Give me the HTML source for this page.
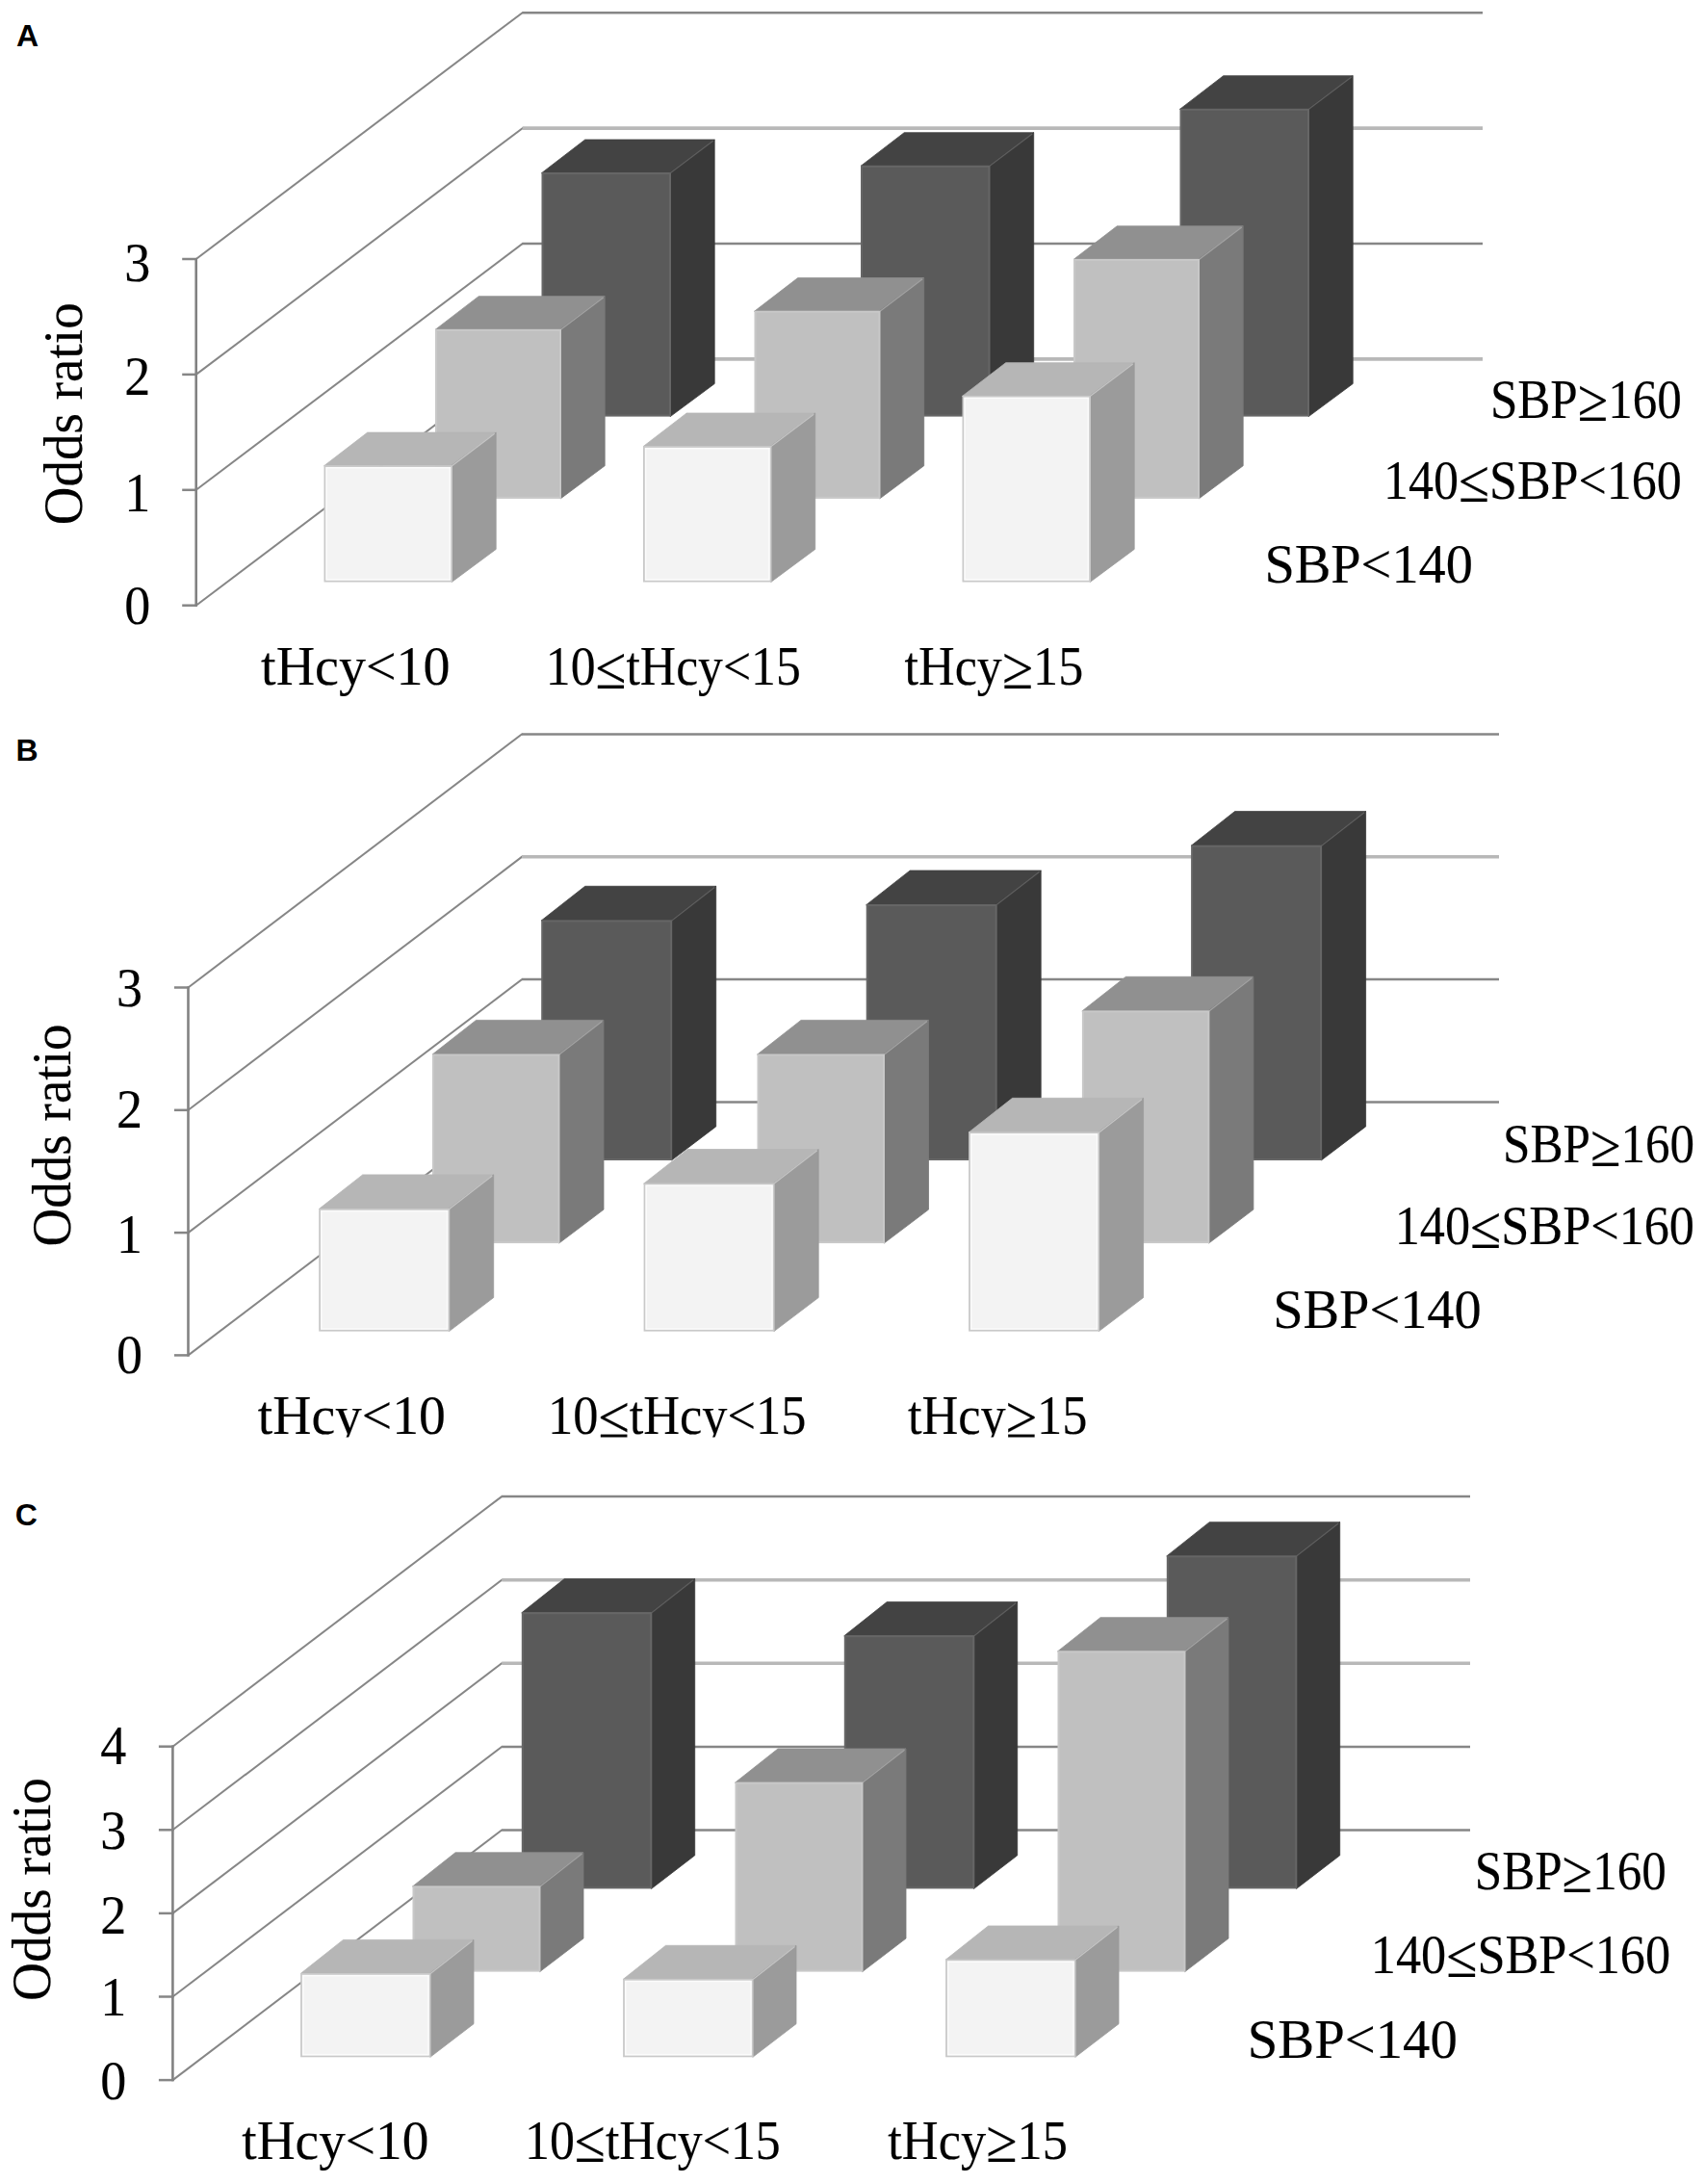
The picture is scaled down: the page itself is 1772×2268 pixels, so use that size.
<!DOCTYPE html>
<html><head><meta charset="utf-8"><title>Figure</title>
<style>
html,body{margin:0;padding:0;background:#fff;}
svg{display:block;}
text{font-family:"Liberation Serif","DejaVu Serif",serif;fill:#000;stroke:#000;stroke-width:0.15px;}
text.pl{font-family:"Liberation Sans","DejaVu Sans",sans-serif;font-weight:bold;font-size:32px;stroke:none;}
</style></head>
<body>
<svg width="1772" height="2268" viewBox="0 0 1772 2268">
<defs><clipPath id="clipB"><rect x="0" y="1400" width="1772" height="92.4"/></clipPath></defs>
<rect width="1772" height="2268" fill="#fff"/>
<g id="panelA">
<line x1="203.7" y1="628.7" x2="543.3" y2="372.5" stroke="#868686" stroke-width="2"/>
<line x1="542.7" y1="372.9" x2="1540.0" y2="372.9" stroke="#b8b8b8" stroke-width="3.6"/>
<line x1="189.2" y1="628.7" x2="204.7" y2="628.7" stroke="#868686" stroke-width="2.5"/>
<line x1="203.7" y1="508.8" x2="543.3" y2="252.6" stroke="#868686" stroke-width="2"/>
<line x1="542.7" y1="253.0" x2="1540.0" y2="253.0" stroke="#868686" stroke-width="2.5"/>
<line x1="189.2" y1="508.8" x2="204.7" y2="508.8" stroke="#868686" stroke-width="2.5"/>
<line x1="203.7" y1="388.9" x2="543.3" y2="132.7" stroke="#868686" stroke-width="2"/>
<line x1="542.7" y1="133.1" x2="1540.0" y2="133.1" stroke="#b8b8b8" stroke-width="3.6"/>
<line x1="189.2" y1="388.9" x2="204.7" y2="388.9" stroke="#868686" stroke-width="2.5"/>
<line x1="203.7" y1="269.0" x2="543.3" y2="12.7" stroke="#868686" stroke-width="2"/>
<line x1="542.7" y1="13.2" x2="1540.0" y2="13.2" stroke="#868686" stroke-width="2.5"/>
<line x1="189.2" y1="269.0" x2="204.7" y2="269.0" stroke="#868686" stroke-width="2.5"/>
<line x1="203.7" y1="267.9" x2="203.7" y2="629.8" stroke="#828282" stroke-width="2.6"/>
<polygon points="562.5,179.7 607.7,145.0 742.2,145.0 697.0,179.7" fill="#434343" stroke="#434343" stroke-width="0.8"/>
<polygon points="696.2,179.1 742.2,145.0 742.2,398.5 696.2,432.6" fill="#393939" stroke="#393939" stroke-width="0.8"/>
<line x1="696.5" y1="179.6" x2="740.7" y2="146.2" stroke="#5e5e5e" stroke-width="1.3"/>
<rect x="563.5" y="180.1" width="132.5" height="251.5" fill="#5a5a5a" stroke="#666666" stroke-width="2"/>
<polygon points="894.0,172.4 939.2,137.7 1073.7,137.7 1028.5,172.4" fill="#434343" stroke="#434343" stroke-width="0.8"/>
<polygon points="1027.7,171.8 1073.7,137.7 1073.7,398.5 1027.7,432.6" fill="#393939" stroke="#393939" stroke-width="0.8"/>
<line x1="1028.0" y1="172.3" x2="1072.2" y2="138.9" stroke="#5e5e5e" stroke-width="1.3"/>
<rect x="895.0" y="172.8" width="132.5" height="258.8" fill="#5a5a5a" stroke="#666666" stroke-width="2"/>
<polygon points="1225.5,113.4 1270.7,78.7 1405.2,78.7 1360.0,113.4" fill="#434343" stroke="#434343" stroke-width="0.8"/>
<polygon points="1359.2,112.8 1405.2,78.7 1405.2,398.5 1359.2,432.6" fill="#393939" stroke="#393939" stroke-width="0.8"/>
<line x1="1359.5" y1="113.3" x2="1403.7" y2="79.9" stroke="#5e5e5e" stroke-width="1.3"/>
<rect x="1226.5" y="113.8" width="132.5" height="317.8" fill="#5a5a5a" stroke="#666666" stroke-width="2"/>
<polygon points="452.0,342.4 497.2,307.7 628.2,307.7 583.0,342.4" fill="#909090" stroke="#909090" stroke-width="0.8"/>
<polygon points="582.2,341.8 628.2,307.7 628.2,483.7 582.2,517.9" fill="#7a7a7a" stroke="#7a7a7a" stroke-width="0.8"/>
<line x1="582.5" y1="342.3" x2="626.7" y2="308.9" stroke="#a2a2a2" stroke-width="1.3"/>
<rect x="453.0" y="342.8" width="129.0" height="174.1" fill="#c0c0c0" stroke="#c8c8c8" stroke-width="2"/>
<polygon points="783.5,323.3 828.7,288.6 959.7,288.6 914.5,323.3" fill="#909090" stroke="#909090" stroke-width="0.8"/>
<polygon points="913.7,322.7 959.7,288.6 959.7,483.7 913.7,517.9" fill="#7a7a7a" stroke="#7a7a7a" stroke-width="0.8"/>
<line x1="914.0" y1="323.2" x2="958.2" y2="289.8" stroke="#a2a2a2" stroke-width="1.3"/>
<rect x="784.5" y="323.7" width="129.0" height="193.2" fill="#c0c0c0" stroke="#c8c8c8" stroke-width="2"/>
<polygon points="1115.0,269.5 1160.2,234.8 1291.2,234.8 1246.0,269.5" fill="#909090" stroke="#909090" stroke-width="0.8"/>
<polygon points="1245.2,268.9 1291.2,234.8 1291.2,483.7 1245.2,517.9" fill="#7a7a7a" stroke="#7a7a7a" stroke-width="0.8"/>
<line x1="1245.5" y1="269.4" x2="1289.7" y2="236.0" stroke="#a2a2a2" stroke-width="1.3"/>
<rect x="1116.0" y="269.9" width="129.0" height="247.0" fill="#c0c0c0" stroke="#c8c8c8" stroke-width="2"/>
<polygon points="336.5,483.8 381.7,449.1 515.2,449.1 470.0,483.8" fill="#b6b6b6" stroke="#b6b6b6" stroke-width="0.8"/>
<polygon points="469.2,483.2 515.2,449.1 515.2,570.4 469.2,604.5" fill="#9b9b9b" stroke="#9b9b9b" stroke-width="0.8"/>
<line x1="469.5" y1="483.7" x2="513.7" y2="450.3" stroke="#c4c4c4" stroke-width="1.3"/>
<rect x="337.5" y="484.2" width="131.5" height="119.3" fill="#f3f3f3" stroke="#c9c9c9" stroke-width="2"/>
<rect x="339.1" y="485.8" width="128.3" height="116.1" fill="none" stroke="#fbfbfb" stroke-width="1.6"/>
<polygon points="668.0,463.7 713.2,429.0 846.7,429.0 801.5,463.7" fill="#b6b6b6" stroke="#b6b6b6" stroke-width="0.8"/>
<polygon points="800.7,463.1 846.7,429.0 846.7,570.4 800.7,604.5" fill="#9b9b9b" stroke="#9b9b9b" stroke-width="0.8"/>
<line x1="801.0" y1="463.6" x2="845.2" y2="430.2" stroke="#c4c4c4" stroke-width="1.3"/>
<rect x="669.0" y="464.1" width="131.5" height="139.4" fill="#f3f3f3" stroke="#c9c9c9" stroke-width="2"/>
<rect x="670.6" y="465.7" width="128.3" height="136.2" fill="none" stroke="#fbfbfb" stroke-width="1.6"/>
<polygon points="999.5,411.4 1044.7,376.7 1178.2,376.7 1133.0,411.4" fill="#b6b6b6" stroke="#b6b6b6" stroke-width="0.8"/>
<polygon points="1132.2,410.8 1178.2,376.7 1178.2,570.4 1132.2,604.5" fill="#9b9b9b" stroke="#9b9b9b" stroke-width="0.8"/>
<line x1="1132.5" y1="411.3" x2="1176.7" y2="377.9" stroke="#c4c4c4" stroke-width="1.3"/>
<rect x="1000.5" y="411.8" width="131.5" height="191.7" fill="#f3f3f3" stroke="#c9c9c9" stroke-width="2"/>
<rect x="1002.1" y="413.4" width="128.3" height="188.5" fill="none" stroke="#fbfbfb" stroke-width="1.6"/>
</g>
<g id="panelB">
<line x1="195.5" y1="1407.4" x2="542.6" y2="1144.0" stroke="#868686" stroke-width="2"/>
<line x1="542.0" y1="1144.4" x2="1557.0" y2="1144.4" stroke="#868686" stroke-width="2.5"/>
<line x1="181.0" y1="1407.4" x2="196.5" y2="1407.4" stroke="#868686" stroke-width="2.5"/>
<line x1="195.5" y1="1280.1" x2="542.6" y2="1016.7" stroke="#868686" stroke-width="2"/>
<line x1="542.0" y1="1017.1" x2="1557.0" y2="1017.1" stroke="#868686" stroke-width="2.5"/>
<line x1="181.0" y1="1280.1" x2="196.5" y2="1280.1" stroke="#868686" stroke-width="2.5"/>
<line x1="195.5" y1="1152.8" x2="542.6" y2="889.4" stroke="#868686" stroke-width="2"/>
<line x1="542.0" y1="889.8" x2="1557.0" y2="889.8" stroke="#b8b8b8" stroke-width="3.6"/>
<line x1="181.0" y1="1152.8" x2="196.5" y2="1152.8" stroke="#868686" stroke-width="2.5"/>
<line x1="195.5" y1="1025.5" x2="542.6" y2="762.0" stroke="#868686" stroke-width="2"/>
<line x1="542.0" y1="762.5" x2="1557.0" y2="762.5" stroke="#868686" stroke-width="2.5"/>
<line x1="181.0" y1="1025.5" x2="196.5" y2="1025.5" stroke="#868686" stroke-width="2.5"/>
<line x1="195.5" y1="1024.4" x2="195.5" y2="1408.5" stroke="#828282" stroke-width="2.6"/>
<polygon points="562.2,956.0 607.7,920.3 743.7,920.3 698.2,956.0" fill="#434343" stroke="#434343" stroke-width="0.8"/>
<polygon points="697.4,955.4 743.7,920.3 743.7,1169.9 697.4,1205.0" fill="#393939" stroke="#393939" stroke-width="0.8"/>
<line x1="697.7" y1="955.9" x2="742.2" y2="921.5" stroke="#5e5e5e" stroke-width="1.3"/>
<rect x="563.2" y="956.4" width="134.0" height="247.6" fill="#5a5a5a" stroke="#666666" stroke-width="2"/>
<polygon points="899.7,939.7 945.2,904.0 1081.2,904.0 1035.7,939.7" fill="#434343" stroke="#434343" stroke-width="0.8"/>
<polygon points="1034.9,939.1 1081.2,904.0 1081.2,1169.9 1034.9,1205.0" fill="#393939" stroke="#393939" stroke-width="0.8"/>
<line x1="1035.2" y1="939.6" x2="1079.7" y2="905.2" stroke="#5e5e5e" stroke-width="1.3"/>
<rect x="900.7" y="940.1" width="134.0" height="263.9" fill="#5a5a5a" stroke="#666666" stroke-width="2"/>
<polygon points="1237.1,878.3 1282.6,842.6 1418.6,842.6 1373.1,878.3" fill="#434343" stroke="#434343" stroke-width="0.8"/>
<polygon points="1372.3,877.7 1418.6,842.6 1418.6,1169.9 1372.3,1205.0" fill="#393939" stroke="#393939" stroke-width="0.8"/>
<line x1="1372.6" y1="878.2" x2="1417.1" y2="843.8" stroke="#5e5e5e" stroke-width="1.3"/>
<rect x="1238.1" y="878.7" width="134.0" height="325.3" fill="#5a5a5a" stroke="#666666" stroke-width="2"/>
<polygon points="449.0,1095.1 494.5,1059.4 627.0,1059.4 581.5,1095.1" fill="#909090" stroke="#909090" stroke-width="0.8"/>
<polygon points="580.7,1094.5 627.0,1059.4 627.0,1256.1 580.7,1291.1" fill="#7a7a7a" stroke="#7a7a7a" stroke-width="0.8"/>
<line x1="581.0" y1="1095.0" x2="625.5" y2="1060.6" stroke="#a2a2a2" stroke-width="1.3"/>
<rect x="450.0" y="1095.5" width="130.5" height="194.6" fill="#c0c0c0" stroke="#c8c8c8" stroke-width="2"/>
<polygon points="786.5,1095.1 832.0,1059.4 964.5,1059.4 919.0,1095.1" fill="#909090" stroke="#909090" stroke-width="0.8"/>
<polygon points="918.2,1094.5 964.5,1059.4 964.5,1256.1 918.2,1291.1" fill="#7a7a7a" stroke="#7a7a7a" stroke-width="0.8"/>
<line x1="918.5" y1="1095.0" x2="963.0" y2="1060.6" stroke="#a2a2a2" stroke-width="1.3"/>
<rect x="787.5" y="1095.5" width="130.5" height="194.6" fill="#c0c0c0" stroke="#c8c8c8" stroke-width="2"/>
<polygon points="1123.9,1050.0 1169.4,1014.3 1301.9,1014.3 1256.4,1050.0" fill="#909090" stroke="#909090" stroke-width="0.8"/>
<polygon points="1255.6,1049.4 1301.9,1014.3 1301.9,1256.1 1255.6,1291.1" fill="#7a7a7a" stroke="#7a7a7a" stroke-width="0.8"/>
<line x1="1255.9" y1="1049.9" x2="1300.4" y2="1015.5" stroke="#a2a2a2" stroke-width="1.3"/>
<rect x="1124.9" y="1050.4" width="130.5" height="239.7" fill="#c0c0c0" stroke="#c8c8c8" stroke-width="2"/>
<polygon points="331.2,1255.6 376.7,1219.9 512.7,1219.9 467.2,1255.6" fill="#b6b6b6" stroke="#b6b6b6" stroke-width="0.8"/>
<polygon points="466.4,1255.0 512.7,1219.9 512.7,1347.5 466.4,1382.6" fill="#9b9b9b" stroke="#9b9b9b" stroke-width="0.8"/>
<line x1="466.7" y1="1255.5" x2="511.2" y2="1221.1" stroke="#c4c4c4" stroke-width="1.3"/>
<rect x="332.2" y="1256.0" width="134.0" height="125.6" fill="#f3f3f3" stroke="#c9c9c9" stroke-width="2"/>
<rect x="333.8" y="1257.6" width="130.8" height="122.4" fill="none" stroke="#fbfbfb" stroke-width="1.6"/>
<polygon points="668.6,1229.2 714.2,1193.5 850.2,1193.5 804.6,1229.2" fill="#b6b6b6" stroke="#b6b6b6" stroke-width="0.8"/>
<polygon points="803.9,1228.6 850.2,1193.5 850.2,1347.5 803.9,1382.6" fill="#9b9b9b" stroke="#9b9b9b" stroke-width="0.8"/>
<line x1="804.1" y1="1229.1" x2="848.7" y2="1194.7" stroke="#c4c4c4" stroke-width="1.3"/>
<rect x="669.6" y="1229.6" width="134.0" height="152.0" fill="#f3f3f3" stroke="#c9c9c9" stroke-width="2"/>
<rect x="671.2" y="1231.2" width="130.8" height="148.8" fill="none" stroke="#fbfbfb" stroke-width="1.6"/>
<polygon points="1006.1,1176.0 1051.6,1140.3 1187.6,1140.3 1142.1,1176.0" fill="#b6b6b6" stroke="#b6b6b6" stroke-width="0.8"/>
<polygon points="1141.3,1175.4 1187.6,1140.3 1187.6,1347.5 1141.3,1382.6" fill="#9b9b9b" stroke="#9b9b9b" stroke-width="0.8"/>
<line x1="1141.6" y1="1175.9" x2="1186.1" y2="1141.5" stroke="#c4c4c4" stroke-width="1.3"/>
<rect x="1007.1" y="1176.4" width="134.0" height="205.2" fill="#f3f3f3" stroke="#c9c9c9" stroke-width="2"/>
<rect x="1008.7" y="1178.0" width="130.8" height="202.0" fill="none" stroke="#fbfbfb" stroke-width="1.6"/>
</g>
<g id="panelC">
<line x1="179.4" y1="2160.1" x2="521.8" y2="1900.0" stroke="#868686" stroke-width="2"/>
<line x1="521.2" y1="1900.5" x2="1527.0" y2="1900.5" stroke="#868686" stroke-width="2.5"/>
<line x1="164.9" y1="2160.1" x2="180.4" y2="2160.1" stroke="#868686" stroke-width="2.5"/>
<line x1="179.4" y1="2073.5" x2="521.8" y2="1813.5" stroke="#868686" stroke-width="2"/>
<line x1="521.2" y1="1813.9" x2="1527.0" y2="1813.9" stroke="#868686" stroke-width="2.5"/>
<line x1="164.9" y1="2073.5" x2="180.4" y2="2073.5" stroke="#868686" stroke-width="2.5"/>
<line x1="179.4" y1="1986.9" x2="521.8" y2="1726.8" stroke="#868686" stroke-width="2"/>
<line x1="521.2" y1="1727.3" x2="1527.0" y2="1727.3" stroke="#b8b8b8" stroke-width="3.6"/>
<line x1="164.9" y1="1986.9" x2="180.4" y2="1986.9" stroke="#868686" stroke-width="2.5"/>
<line x1="179.4" y1="1900.3" x2="521.8" y2="1640.2" stroke="#868686" stroke-width="2"/>
<line x1="521.2" y1="1640.7" x2="1527.0" y2="1640.7" stroke="#b8b8b8" stroke-width="3.6"/>
<line x1="164.9" y1="1900.3" x2="180.4" y2="1900.3" stroke="#868686" stroke-width="2.5"/>
<line x1="179.4" y1="1813.7" x2="521.8" y2="1553.6" stroke="#868686" stroke-width="2"/>
<line x1="521.2" y1="1554.1" x2="1527.0" y2="1554.1" stroke="#868686" stroke-width="2.5"/>
<line x1="164.9" y1="1813.7" x2="180.4" y2="1813.7" stroke="#868686" stroke-width="2.5"/>
<line x1="179.4" y1="1812.6" x2="179.4" y2="2161.2" stroke="#828282" stroke-width="2.6"/>
<polygon points="541.8,1674.8 586.2,1639.6 721.7,1639.6 677.3,1674.8" fill="#434343" stroke="#434343" stroke-width="0.8"/>
<polygon points="676.5,1674.2 721.7,1639.6 721.7,1926.8 676.5,1961.4" fill="#393939" stroke="#393939" stroke-width="0.8"/>
<line x1="676.8" y1="1674.7" x2="720.2" y2="1640.8" stroke="#5e5e5e" stroke-width="1.3"/>
<rect x="542.8" y="1675.2" width="133.5" height="285.2" fill="#5a5a5a" stroke="#666666" stroke-width="2"/>
<polygon points="876.8,1698.8 921.2,1663.6 1056.7,1663.6 1012.3,1698.8" fill="#434343" stroke="#434343" stroke-width="0.8"/>
<polygon points="1011.5,1698.2 1056.7,1663.6 1056.7,1926.8 1011.5,1961.4" fill="#393939" stroke="#393939" stroke-width="0.8"/>
<line x1="1011.8" y1="1698.7" x2="1055.2" y2="1664.8" stroke="#5e5e5e" stroke-width="1.3"/>
<rect x="877.8" y="1699.2" width="133.5" height="261.2" fill="#5a5a5a" stroke="#666666" stroke-width="2"/>
<polygon points="1211.8,1615.9 1256.2,1580.7 1391.7,1580.7 1347.3,1615.9" fill="#434343" stroke="#434343" stroke-width="0.8"/>
<polygon points="1346.5,1615.3 1391.7,1580.7 1391.7,1926.8 1346.5,1961.4" fill="#393939" stroke="#393939" stroke-width="0.8"/>
<line x1="1346.8" y1="1615.8" x2="1390.2" y2="1581.9" stroke="#5e5e5e" stroke-width="1.3"/>
<rect x="1212.8" y="1616.3" width="133.5" height="344.1" fill="#5a5a5a" stroke="#666666" stroke-width="2"/>
<polygon points="428.5,1959.0 473.0,1923.8 606.0,1923.8 561.5,1959.0" fill="#909090" stroke="#909090" stroke-width="0.8"/>
<polygon points="560.7,1958.4 606.0,1923.8 606.0,2013.0 560.7,2047.6" fill="#7a7a7a" stroke="#7a7a7a" stroke-width="0.8"/>
<line x1="561.0" y1="1958.9" x2="604.5" y2="1925.0" stroke="#a2a2a2" stroke-width="1.3"/>
<rect x="429.5" y="1959.4" width="131.0" height="87.2" fill="#c0c0c0" stroke="#c8c8c8" stroke-width="2"/>
<polygon points="763.5,1851.2 808.0,1816.0 941.0,1816.0 896.5,1851.2" fill="#909090" stroke="#909090" stroke-width="0.8"/>
<polygon points="895.7,1850.6 941.0,1816.0 941.0,2013.0 895.7,2047.6" fill="#7a7a7a" stroke="#7a7a7a" stroke-width="0.8"/>
<line x1="896.0" y1="1851.1" x2="939.5" y2="1817.2" stroke="#a2a2a2" stroke-width="1.3"/>
<rect x="764.5" y="1851.6" width="131.0" height="195.0" fill="#c0c0c0" stroke="#c8c8c8" stroke-width="2"/>
<polygon points="1098.5,1714.9 1143.0,1679.7 1276.0,1679.7 1231.5,1714.9" fill="#909090" stroke="#909090" stroke-width="0.8"/>
<polygon points="1230.7,1714.3 1276.0,1679.7 1276.0,2013.0 1230.7,2047.6" fill="#7a7a7a" stroke="#7a7a7a" stroke-width="0.8"/>
<line x1="1231.0" y1="1714.8" x2="1274.5" y2="1680.9" stroke="#a2a2a2" stroke-width="1.3"/>
<rect x="1099.5" y="1715.3" width="131.0" height="331.3" fill="#c0c0c0" stroke="#c8c8c8" stroke-width="2"/>
<polygon points="312.1,2049.6 356.5,2014.4 492.0,2014.4 447.6,2049.6" fill="#b6b6b6" stroke="#b6b6b6" stroke-width="0.8"/>
<polygon points="446.8,2049.0 492.0,2014.4 492.0,2101.7 446.8,2136.3" fill="#9b9b9b" stroke="#9b9b9b" stroke-width="0.8"/>
<line x1="447.1" y1="2049.5" x2="490.5" y2="2015.6" stroke="#c4c4c4" stroke-width="1.3"/>
<rect x="313.1" y="2050.0" width="133.5" height="85.3" fill="#f3f3f3" stroke="#c9c9c9" stroke-width="2"/>
<rect x="314.7" y="2051.6" width="130.3" height="82.1" fill="none" stroke="#fbfbfb" stroke-width="1.6"/>
<polygon points="647.1,2055.5 691.5,2020.3 827.0,2020.3 782.6,2055.5" fill="#b6b6b6" stroke="#b6b6b6" stroke-width="0.8"/>
<polygon points="781.8,2054.9 827.0,2020.3 827.0,2101.7 781.8,2136.3" fill="#9b9b9b" stroke="#9b9b9b" stroke-width="0.8"/>
<line x1="782.1" y1="2055.4" x2="825.5" y2="2021.5" stroke="#c4c4c4" stroke-width="1.3"/>
<rect x="648.1" y="2055.9" width="133.5" height="79.4" fill="#f3f3f3" stroke="#c9c9c9" stroke-width="2"/>
<rect x="649.7" y="2057.5" width="130.3" height="76.2" fill="none" stroke="#fbfbfb" stroke-width="1.6"/>
<polygon points="982.1,2035.2 1026.5,2000.0 1162.0,2000.0 1117.6,2035.2" fill="#b6b6b6" stroke="#b6b6b6" stroke-width="0.8"/>
<polygon points="1116.8,2034.6 1162.0,2000.0 1162.0,2101.7 1116.8,2136.3" fill="#9b9b9b" stroke="#9b9b9b" stroke-width="0.8"/>
<line x1="1117.1" y1="2035.1" x2="1160.5" y2="2001.2" stroke="#c4c4c4" stroke-width="1.3"/>
<rect x="983.1" y="2035.6" width="133.5" height="99.7" fill="#f3f3f3" stroke="#c9c9c9" stroke-width="2"/>
<rect x="984.7" y="2037.2" width="130.3" height="96.5" fill="none" stroke="#fbfbfb" stroke-width="1.6"/>
</g>
<g id="labels">
<text x="17" y="48" class="pl">A</text>
<text x="16.6" y="789.9" class="pl">B</text>
<text x="15.8" y="1584.3" class="pl">C</text>
<text x="129.2" y="647.5" font-size="56.5" text-anchor="start" textLength="27.0" lengthAdjust="spacingAndGlyphs">0</text>
<text x="129.2" y="530.7" font-size="56.5" text-anchor="start" textLength="27.0" lengthAdjust="spacingAndGlyphs">1</text>
<text x="129.2" y="409.7" font-size="56.5" text-anchor="start" textLength="27.0" lengthAdjust="spacingAndGlyphs">2</text>
<text x="129.2" y="292.0" font-size="56.5" text-anchor="start" textLength="27.0" lengthAdjust="spacingAndGlyphs">3</text>
<text x="120.9" y="1426.4" font-size="56.5" text-anchor="start" textLength="27.0" lengthAdjust="spacingAndGlyphs">0</text>
<text x="120.9" y="1301.0" font-size="56.5" text-anchor="start" textLength="27.0" lengthAdjust="spacingAndGlyphs">1</text>
<text x="120.9" y="1171.4" font-size="56.5" text-anchor="start" textLength="27.0" lengthAdjust="spacingAndGlyphs">2</text>
<text x="120.9" y="1045.2" font-size="56.5" text-anchor="start" textLength="27.0" lengthAdjust="spacingAndGlyphs">3</text>
<text x="104.3" y="2179.6" font-size="56.5" text-anchor="start" textLength="27.0" lengthAdjust="spacingAndGlyphs">0</text>
<text x="104.3" y="2092.6" font-size="56.5" text-anchor="start" textLength="27.0" lengthAdjust="spacingAndGlyphs">1</text>
<text x="104.3" y="2008.4" font-size="56.5" text-anchor="start" textLength="27.0" lengthAdjust="spacingAndGlyphs">2</text>
<text x="104.3" y="1920.4" font-size="56.5" text-anchor="start" textLength="27.0" lengthAdjust="spacingAndGlyphs">3</text>
<text x="104.3" y="1832.4" font-size="56.5" text-anchor="start" textLength="27.0" lengthAdjust="spacingAndGlyphs">4</text>
<text transform="translate(85.3,429.8) rotate(-90)" font-size="56" text-anchor="middle" textLength="231.0" lengthAdjust="spacingAndGlyphs">Odds ratio</text>
<text transform="translate(72.6,1179.0) rotate(-90)" font-size="56" text-anchor="middle" textLength="231.0" lengthAdjust="spacingAndGlyphs">Odds ratio</text>
<text transform="translate(52.0,1962.0) rotate(-90)" font-size="56" text-anchor="middle" textLength="232.0" lengthAdjust="spacingAndGlyphs">Odds ratio</text>
<text x="271.1" y="711.0" font-size="56" text-anchor="start" textLength="196.4" lengthAdjust="spacingAndGlyphs">tHcy&lt;10</text>
<text x="566.8" y="711.0" font-size="56" text-anchor="start" textLength="265.0" lengthAdjust="spacingAndGlyphs">10<tspan font-size="63" dy="3.5">≤</tspan><tspan dy="-3.5">tHcy&lt;15</tspan></text>
<text x="939.6" y="711.0" font-size="56" text-anchor="start" textLength="185.6" lengthAdjust="spacingAndGlyphs">tHcy<tspan font-size="63" dy="3.5">≥</tspan><tspan dy="-3.5">15</tspan></text>
<g clip-path="url(#clipB)"><text x="267.8" y="1489.0" font-size="56" text-anchor="start" textLength="195.0" lengthAdjust="spacingAndGlyphs">tHcy&lt;10</text><text x="569.0" y="1489.0" font-size="56" text-anchor="start" textLength="268.5" lengthAdjust="spacingAndGlyphs">10<tspan font-size="63" dy="3.5">≤</tspan><tspan dy="-3.5">tHcy&lt;15</tspan></text><text x="942.9" y="1489.0" font-size="56" text-anchor="start" textLength="186.6" lengthAdjust="spacingAndGlyphs">tHcy<tspan font-size="63" dy="3.5">≥</tspan><tspan dy="-3.5">15</tspan></text></g>
<text x="251.3" y="2241.5" font-size="56" text-anchor="start" textLength="194.0" lengthAdjust="spacingAndGlyphs">tHcy&lt;10</text>
<text x="545.0" y="2241.5" font-size="56" text-anchor="start" textLength="265.8" lengthAdjust="spacingAndGlyphs">10<tspan font-size="63" dy="3.5">≤</tspan><tspan dy="-3.5">tHcy&lt;15</tspan></text>
<text x="922.3" y="2241.5" font-size="56" text-anchor="start" textLength="186.6" lengthAdjust="spacingAndGlyphs">tHcy<tspan font-size="63" dy="3.5">≥</tspan><tspan dy="-3.5">15</tspan></text>
<text x="1547.9" y="433.5" font-size="56" text-anchor="start" textLength="198.9" lengthAdjust="spacingAndGlyphs">SBP<tspan font-size="63" dy="3.5">≥</tspan><tspan dy="-3.5">160</tspan></text>
<text x="1437.0" y="517.6" font-size="56" text-anchor="start" textLength="309.8" lengthAdjust="spacingAndGlyphs">140<tspan font-size="63" dy="3.5">≤</tspan><tspan dy="-3.5">SBP&lt;160</tspan></text>
<text x="1313.4" y="605.0" font-size="56" text-anchor="start" textLength="216.5" lengthAdjust="spacingAndGlyphs">SBP&lt;140</text>
<text x="1561.1" y="1207.3" font-size="56" text-anchor="start" textLength="198.9" lengthAdjust="spacingAndGlyphs">SBP<tspan font-size="63" dy="3.5">≥</tspan><tspan dy="-3.5">160</tspan></text>
<text x="1448.7" y="1292.0" font-size="56" text-anchor="start" textLength="311.3" lengthAdjust="spacingAndGlyphs">140<tspan font-size="63" dy="3.5">≤</tspan><tspan dy="-3.5">SBP&lt;160</tspan></text>
<text x="1322.2" y="1379.4" font-size="56" text-anchor="start" textLength="216.5" lengthAdjust="spacingAndGlyphs">SBP&lt;140</text>
<text x="1531.8" y="1961.5" font-size="56" text-anchor="start" textLength="198.9" lengthAdjust="spacingAndGlyphs">SBP<tspan font-size="63" dy="3.5">≥</tspan><tspan dy="-3.5">160</tspan></text>
<text x="1423.8" y="2049.4" font-size="56" text-anchor="start" textLength="311.3" lengthAdjust="spacingAndGlyphs">140<tspan font-size="63" dy="3.5">≤</tspan><tspan dy="-3.5">SBP&lt;160</tspan></text>
<text x="1295.8" y="2137.3" font-size="56" text-anchor="start" textLength="218.0" lengthAdjust="spacingAndGlyphs">SBP&lt;140</text>
</g>
</svg>
</body></html>
